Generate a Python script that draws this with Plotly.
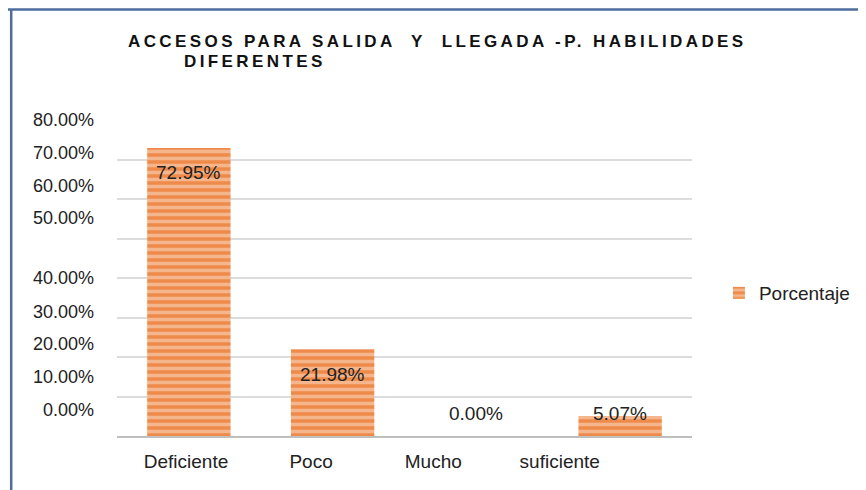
import plotly.graph_objects as go

# datos
categorias = ["Deficiente", "Poco", "Mucho", "suficiente"]
porcentaje = [0.7295, 0.2198, 0.0, 0.0507]

# etiquetas del eje y tal como aparecen (desplazadas respecto a la rejilla)
y_ticktext = ["80.00%", "70.00%", "60.00%", "50.00%", "40.00%",
              "30.00%", "20.00%", "10.00%", "0.00%"]
y_tickpos = [0.80, 0.717, 0.633, 0.552, 0.40, 0.316, 0.233, 0.149, 0.066]
x_tickpos = [-0.02, 0.85, 1.70, 2.58]

FONT = "Liberation Sans, Arial, sans-serif"
TXT = "#222222"

fig = go.Figure()
fig.add_trace(go.Bar(
    x=categorias,
    y=porcentaje,
    name="Porcentaje",
    width=0.58,
    marker=dict(
        color="#EE8B4A",
        line=dict(width=0),
        pattern=dict(shape="-", size=7, solidity=0.5,
                     fgcolor="#FCE2CF", bgcolor="#EE8B4A"),
    ),
    hovertemplate="%{x}: %{y:.2%}<extra></extra>",
))

# traza auxiliar invisible para que se dibujen los ejes superpuestos
fig.add_trace(go.Scatter(
    x=x_tickpos, y=[0] * len(x_tickpos),
    xaxis="x2", yaxis="y2",
    mode="markers", marker=dict(opacity=0),
    showlegend=False, hoverinfo="skip",
))

# etiquetas de datos
for cat, val in zip(categorias, porcentaje):
    grande = val > 0.1
    fig.add_annotation(
        x=cat, y=val if grande else 0,
        text=f"{val * 100:.2f}%",
        showarrow=False,
        yanchor="middle",
        yshift=-25 if grande else 23,
        font=dict(family=FONT, size=19, color=TXT),
    )

# titulo en dos lineas
fig.add_annotation(
    xref="paper", yref="paper", x=0.558, y=1.25,
    text='<b><span style="letter-spacing:3.4px">ACCESOS PARA SALIDA  Y  LLEGADA -P. HABILIDADES</span></b>',
    showarrow=False, xanchor="center", yanchor="middle",
    font=dict(family=FONT, size=17, color="#111111"),
)
fig.add_annotation(
    xref="paper", yref="paper", x=0.113, y=1.185,
    text='<b><span style="letter-spacing:3.4px">DIFERENTES</span></b>',
    showarrow=False, xanchor="left", yanchor="middle",
    font=dict(family=FONT, size=17, color="#111111"),
)

# marco del documento
borde = dict(color="#4E6C9E", width=2.5)
fig.add_shape(type="line", xref="paper", yref="paper",
              x0=-0.19, x1=1.31, y0=1.3497, y1=1.3497, line=borde)
fig.add_shape(type="line", xref="paper", yref="paper",
              x0=-0.184, x1=-0.184, y0=1.3497, y1=-0.18, line=borde)

fig.update_layout(
    width=858,
    height=482,
    margin=dict(l=109, r=173, t=112, b=54),
    paper_bgcolor="white",
    plot_bgcolor="white",
    font=dict(family=FONT, size=19, color=TXT),
    showlegend=True,
    legend=dict(
        x=1.045, y=0.4525, xanchor="left", yanchor="middle",
        font=dict(family=FONT, size=19, color=TXT),
        itemwidth=30,
    ),
    bargap=0.42,
    xaxis=dict(
        showticklabels=False,
        showline=True, linecolor="#BFBFBF", linewidth=2,
        showgrid=False, zeroline=False, ticks="",
    ),
    yaxis=dict(
        range=[0, 0.8001], dtick=0.1,
        showticklabels=False,
        showgrid=True, gridcolor="#DCDCDC", gridwidth=1.5,
        zeroline=False, ticks="",
    ),
    xaxis2=dict(
        overlaying="x", anchor="y2", side="bottom",
        range=[-0.5, 3.5],
        tickmode="array", tickvals=x_tickpos, ticktext=categorias,
        showgrid=False, zeroline=False, showline=False, ticks="",
        ticklabelstandoff=12,
        tickfont=dict(family=FONT, size=19, color=TXT),
    ),
    yaxis2=dict(
        overlaying="y", anchor="x2", side="left",
        range=[0, 0.8001],
        tickmode="array", tickvals=y_tickpos, ticktext=y_ticktext,
        showgrid=False, zeroline=False, showline=False, ticks="",
        ticklabelstandoff=22,
        tickfont=dict(family=FONT, size=18, color=TXT),
    ),
)

fig.write_html("out.html")
